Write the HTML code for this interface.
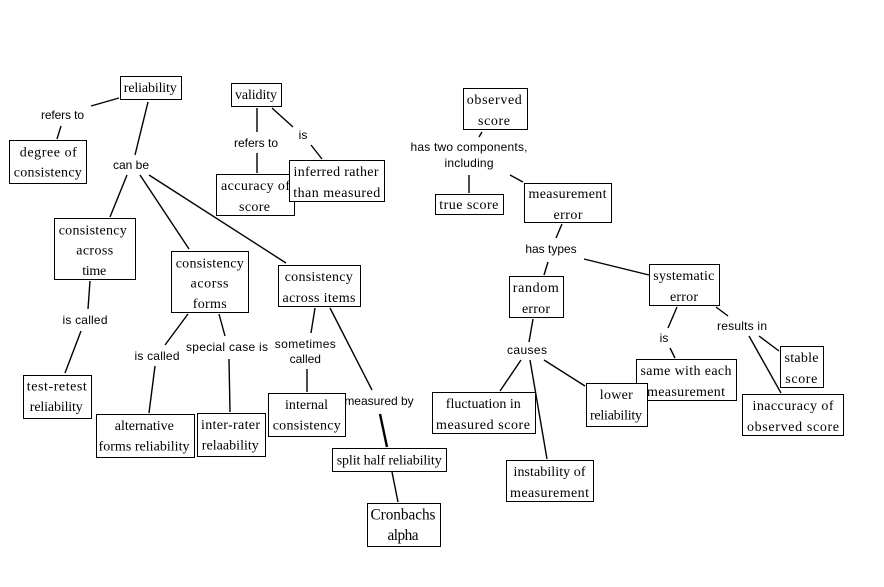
<!DOCTYPE html>
<html><head><meta charset="utf-8"><style>
html,body{margin:0;padding:0;background:#fff;width:884px;height:587px;overflow:hidden}
svg{display:block}
.l line{stroke:#000;stroke-width:1.4}
.t text{font-family:"Liberation Sans",Arial,sans-serif;font-size:12px;text-anchor:middle;fill:#000}
.n rect{fill:#fff;stroke:#000;stroke-width:1;shape-rendering:crispEdges}
.n text{font-family:"Liberation Serif","Times New Roman",serif;font-size:14px;text-anchor:middle;fill:#000}
</style></head><body>
<svg width="884" height="587" viewBox="0 0 884 587" xmlns="http://www.w3.org/2000/svg">
<g class="l">
<line x1="119" y1="98" x2="91" y2="106"/>
<line x1="61" y1="126" x2="57" y2="139"/>
<line x1="148" y1="102" x2="135" y2="155"/>
<line x1="127" y1="175" x2="110" y2="217"/>
<line x1="140" y1="175" x2="189" y2="249"/>
<line x1="149" y1="175" x2="286" y2="263"/>
<line x1="257" y1="108" x2="257" y2="132"/>
<line x1="257" y1="153" x2="257" y2="173"/>
<line x1="272" y1="108" x2="293" y2="127"/>
<line x1="311" y1="145" x2="322" y2="159"/>
<line x1="90" y1="281" x2="88" y2="309"/>
<line x1="81" y1="331" x2="65" y2="373"/>
<line x1="188" y1="314" x2="165" y2="345"/>
<line x1="155" y1="366" x2="149" y2="413"/>
<line x1="219" y1="314" x2="225" y2="336"/>
<line x1="229" y1="359" x2="230" y2="412"/>
<line x1="315" y1="308" x2="311" y2="333"/>
<line x1="307" y1="369" x2="307" y2="392"/>
<line x1="330" y1="308" x2="372" y2="390"/>
<line x1="380" y1="414" x2="387" y2="447" style="stroke-width:2.4"/>
<line x1="392" y1="472" x2="398" y2="502"/>
<line x1="482" y1="132" x2="479" y2="137"/>
<line x1="469" y1="175" x2="469" y2="193"/>
<line x1="510" y1="175" x2="523" y2="182"/>
<line x1="562" y1="224" x2="556" y2="238"/>
<line x1="548" y1="262" x2="544" y2="275"/>
<line x1="584" y1="259" x2="649" y2="275"/>
<line x1="533" y1="319" x2="529" y2="342"/>
<line x1="521" y1="360" x2="500" y2="391"/>
<line x1="530" y1="360" x2="547" y2="459"/>
<line x1="544" y1="360" x2="585" y2="386"/>
<line x1="677" y1="307" x2="668" y2="328"/>
<line x1="670" y1="348" x2="675" y2="358"/>
<line x1="716" y1="307" x2="728" y2="316"/>
<line x1="759" y1="336" x2="779" y2="351"/>
<line x1="749" y1="336" x2="781" y2="393"/>
</g>
<g class="t">
<text x="62.5" y="119" textLength="43">refers to</text>
<text x="131" y="169">can be</text>
<text x="256" y="147" textLength="44">refers to</text>
<text x="303" y="139">is</text>
<text x="85" y="324" textLength="45">is called</text>
<text x="157" y="360" textLength="45">is called</text>
<text x="227" y="351" textLength="82">special case is</text>
<text x="305.3" y="348" textLength="61">sometimes</text>
<text x="305.3" y="363">called</text>
<text x="379" y="405">measured by</text>
<text x="469" y="151" textLength="117">has two components,</text>
<text x="469" y="167" textLength="49">including</text>
<text x="551" y="253">has types</text>
<text x="527" y="354" textLength="40">causes</text>
<text x="664" y="342">is</text>
<text x="742" y="330" textLength="50">results in</text>
</g>
<g class="n">
<rect x="120.5" y="76.5" width="61" height="23"/><text x="150.3" y="92" textLength="53">reliability</text>
<rect x="231.5" y="83.5" width="50" height="23"/><text x="256" y="99" textLength="42">validity</text>
<rect x="9.5" y="140.5" width="77" height="43"/><text x="48.3" y="156.5" textLength="57">degree of</text><text x="47.8" y="176.5" textLength="68">consistency</text>
<rect x="216.5" y="174.5" width="78" height="41"/><text x="255.5" y="190" textLength="69">accuracy of</text><text x="254.5" y="211" textLength="31">score</text>
<rect x="289.5" y="160.5" width="95" height="41"/><text x="336" y="176" textLength="85">inferred rather</text><text x="336.7" y="197" textLength="87">than measured</text>
<rect x="54.5" y="218.5" width="81" height="61"/><text x="92.7" y="234.5" textLength="68">consistency</text><text x="94.7" y="254.5" textLength="37">across</text><text x="94.2" y="275" textLength="24">time</text>
<rect x="171.5" y="251.5" width="77" height="61"/><text x="209.7" y="267.5" textLength="68">consistency</text><text x="209.5" y="287.5" textLength="38">acorss</text><text x="209.7" y="308" textLength="34">forms</text>
<rect x="278.5" y="265.5" width="82" height="41"/><text x="318.7" y="281" textLength="68">consistency</text><text x="319" y="302" textLength="73">across items</text>
<rect x="23.5" y="375.5" width="68" height="43"/><text x="56.8" y="390.5" textLength="60">test-retest</text><text x="56.3" y="411" textLength="53">reliability</text>
<rect x="96.5" y="414.5" width="98" height="43"/><text x="144.3" y="430" textLength="59">alternative</text><text x="144" y="450.5" textLength="91">forms reliability</text>
<rect x="197.5" y="413.5" width="68" height="43"/><text x="230.5" y="429" textLength="59">inter-rater</text><text x="230.3" y="449.5" textLength="57">relaability</text>
<rect x="268.5" y="393.5" width="77" height="43"/><text x="306.5" y="409" textLength="43">internal</text><text x="306.7" y="429.5" textLength="68">consistency</text>
<rect x="332.5" y="448.5" width="114" height="23"/><text x="389.2" y="464.5" textLength="105">split half reliability</text>
<rect x="367.5" y="503.5" width="73" height="43"/><text x="403" y="519.5" style="font-size:15.3px" textLength="65">Cronbachs</text><text x="403" y="540" style="font-size:15.3px" textLength="31">alpha</text>
<rect x="463.5" y="88.5" width="64" height="41"/><text x="494.3" y="104" textLength="55">observed</text><text x="494" y="125" textLength="32">score</text>
<rect x="435.5" y="194.5" width="68" height="20"/><text x="468.8" y="209" textLength="59">true score</text>
<rect x="524.5" y="183.5" width="87" height="39"/><text x="567.5" y="198" textLength="78">measurement</text><text x="568" y="219" textLength="29">error</text>
<rect x="509.5" y="276.5" width="54" height="41"/><text x="535.8" y="292" textLength="46">random</text><text x="536" y="313" textLength="28">error</text>
<rect x="649.5" y="264.5" width="70" height="41"/><text x="683.8" y="280" textLength="61">systematic</text><text x="684" y="301" textLength="28">error</text>
<rect x="636.5" y="359.5" width="100" height="41"/><text x="686" y="375" textLength="91">same with each</text><text x="686" y="396" textLength="78">measurement</text>
<rect x="780.5" y="346.5" width="43" height="41"/><text x="801.5" y="362" textLength="34">stable</text><text x="801.3" y="383" textLength="32">score</text>
<rect x="742.5" y="394.5" width="101" height="41"/><text x="793" y="410" textLength="81">inaccuracy of</text><text x="793" y="431" textLength="92">observed score</text>
<rect x="432.5" y="392.5" width="103" height="41"/><text x="483.3" y="408" textLength="75">fluctuation in</text><text x="483" y="429" textLength="94">measured score</text>
<rect x="586.5" y="383.5" width="61" height="43"/><text x="616.3" y="399" textLength="33">lower</text><text x="616" y="419.5" textLength="52">reliability</text>
<rect x="506.5" y="460.5" width="87" height="41"/><text x="549.5" y="476" textLength="72">instability of</text><text x="549.5" y="497" textLength="79">measurement</text>
</g>
</svg>
</body></html>
